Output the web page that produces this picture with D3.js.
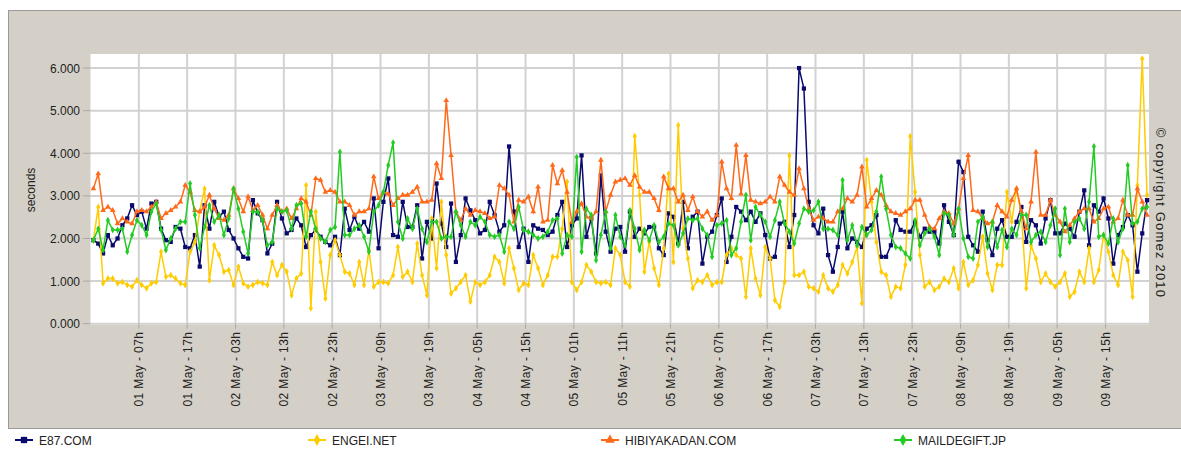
<!DOCTYPE html>
<html lang="en">
<head>
<meta charset="UTF-8">
<title>Response time</title>
<script src="https://cdn.jsdelivr.net/npm/d3@7"></script>
<style>
  body { margin: 0; background: #fff; }
  svg { display: block; font-family: "Liberation Sans", Arial, sans-serif; }
</style>
</head>
<body>
<div id="chart"></div>
<script>
// hourly samples, first one at 30 Apr 21h (+0.6h)
var e87 = [1.96,1.88,1.65,2.08,1.84,2.00,2.31,2.47,2.78,2.55,2.63,2.23,2.82,2.86,2.23,1.96,1.92,2.27,2.23,1.80,1.77,2.08,1.34,2.78,2.23,2.86,2.51,2.63,
  2.20,2.00,1.77,1.57,1.53,2.90,2.59,2.43,1.65,1.88,2.86,2.47,2.12,2.20,2.47,2.31,1.80,2.08,2.20,2.04,1.92,1.84,2.04,1.61,2.70,2.20,2.51,
  2.23,2.39,2.16,2.94,1.77,2.86,3.41,2.08,2.04,2.86,2.27,2.27,2.78,1.53,2.39,2.00,3.29,2.35,1.80,2.82,1.45,2.08,2.94,2.66,2.43,2.12,2.20,
  2.86,2.55,2.16,2.31,4.16,2.63,1.80,2.23,1.45,2.31,2.23,2.20,2.08,2.16,2.55,2.86,1.80,2.31,2.47,3.95,2.04,2.47,1.65,3.48,2.16,1.69,2.23,2.27,
  1.69,2.63,2.04,2.23,2.12,2.27,2.27,1.77,1.61,2.59,2.51,1.88,2.86,1.77,2.51,2.63,1.41,2.04,2.16,2.55,2.94,1.45,2.04,2.74,2.63,2.43,2.63,
  2.39,2.59,2.08,1.53,1.57,2.35,2.39,1.80,2.55,6.00,5.52,2.86,2.31,2.12,2.70,1.61,1.22,1.80,2.63,1.77,2.00,1.92,1.80,2.23,2.31,2.55,1.57,
  1.57,1.84,2.43,2.20,2.16,2.16,2.39,2.04,2.23,2.16,2.16,1.88,2.78,2.39,2.08,3.80,3.56,2.04,1.84,1.69,2.63,1.96,1.61,2.23,2.43,2.04,2.04,2.39,
  2.74,1.92,2.43,2.31,1.88,2.47,2.90,2.12,2.12,2.35,2.23,2.04,2.63,3.13,1.84,2.78,2.63,2.94,2.47,1.41,2.08,2.27,2.55,2.31,1.22,2.12,2.90];

var engei = [1.96,2.74,0.95,1.06,1.06,0.95,0.98,0.91,0.87,1.02,0.91,0.83,0.95,0.98,1.69,1.10,1.14,1.06,0.95,0.91,1.69,1.92,2.63,3.17,1.02,1.84,1.61,1.22,
  1.26,0.91,1.34,0.95,0.87,0.91,0.98,0.95,0.91,1.45,1.14,1.38,1.22,0.67,1.06,1.18,3.25,0.36,2.63,1.45,0.59,1.61,1.96,1.61,1.22,1.18,0.91,
  1.45,0.91,1.73,0.87,0.98,0.98,0.95,1.14,1.80,1.10,1.22,0.98,1.88,1.14,0.67,2.47,1.30,2.86,1.61,0.71,0.83,0.98,1.14,0.52,0.98,0.91,0.98,
  1.14,1.57,1.45,0.95,1.77,1.30,0.79,0.95,0.91,1.61,1.30,0.91,1.14,1.57,1.57,2.23,3.33,0.98,0.79,0.98,1.38,1.22,0.98,0.95,0.98,0.91,1.77,1.61,
  0.98,0.87,4.40,3.02,1.22,1.92,1.30,0.91,1.77,3.52,1.45,4.66,2.23,1.53,0.83,1.02,0.98,1.14,0.91,0.98,0.98,1.61,1.77,1.61,1.53,0.63,1.77,
  1.06,0.67,1.80,1.53,0.55,0.40,0.98,3.95,1.14,1.14,1.22,0.87,0.83,0.75,1.14,0.83,0.75,0.91,1.38,1.18,1.45,1.80,0.48,3.84,2.86,1.92,1.22,
  1.14,0.63,0.87,0.83,1.38,4.40,3.09,1.61,0.87,0.98,0.79,0.87,1.06,0.98,1.30,0.83,1.45,0.91,1.02,1.38,2.04,1.18,0.79,1.38,1.38,3.09,2.39,3.17,
  2.55,0.83,1.84,1.53,0.98,1.18,0.98,0.87,0.98,1.18,0.63,0.75,1.22,0.98,1.77,0.98,1.26,2.08,1.69,1.14,0.91,1.69,1.49,0.63,3.25,6.22,3.02];

var hibiya = [3.17,3.52,2.66,2.74,2.66,2.35,2.47,2.39,2.35,2.63,2.66,2.63,2.74,2.86,2.47,2.59,2.66,2.74,2.86,3.25,3.09,2.66,2.63,2.74,3.02,2.70,2.47,2.43,
  2.55,3.17,2.94,2.63,2.98,2.66,2.78,2.55,2.23,2.55,2.78,2.63,2.70,2.47,2.70,2.94,2.86,2.55,3.41,3.37,3.09,3.13,3.09,2.86,2.86,2.78,2.55,
  2.63,2.63,2.70,3.45,2.94,3.09,3.05,2.78,2.94,3.02,3.02,3.09,3.21,2.86,2.86,2.90,3.76,3.41,5.24,3.95,2.63,2.43,2.70,2.55,2.66,2.63,2.59,
  2.47,2.51,3.25,3.17,3.02,2.39,2.90,2.86,2.98,2.63,3.21,2.39,2.43,3.72,3.29,3.60,3.09,2.39,2.63,2.82,2.51,2.47,2.63,3.84,2.63,3.02,3.33,3.37,
  3.41,3.25,3.48,3.21,3.09,3.09,2.94,2.66,3.45,3.17,3.17,2.86,3.02,2.66,2.98,2.63,2.51,2.63,2.43,2.55,3.80,3.17,2.94,4.19,3.05,3.95,2.90,
  2.86,2.82,2.86,2.98,2.86,3.45,3.25,3.09,3.02,3.64,3.17,2.70,2.43,2.51,2.47,2.39,2.39,2.63,2.70,2.94,2.86,3.02,3.68,2.74,2.94,3.13,3.02,
  2.78,2.63,2.59,2.55,2.63,2.70,2.90,2.90,2.55,2.27,2.23,2.47,2.63,2.59,2.35,2.70,3.41,3.95,2.66,2.63,2.47,2.35,2.39,2.78,2.63,2.51,2.90,3.17,
  2.63,2.23,2.86,4.03,2.55,2.55,2.90,2.55,2.39,2.16,2.31,2.47,2.63,2.70,2.70,2.39,2.47,2.70,2.74,2.39,2.47,2.90,2.55,2.55,3.17,2.86,2.55];

var maildegift = [1.96,2.23,1.73,2.43,2.20,2.20,2.23,1.69,2.08,2.43,2.31,2.08,2.63,2.82,2.20,1.73,2.00,2.23,2.39,2.39,3.29,2.55,1.77,2.27,2.78,2.39,2.55,2.08,
  2.47,3.17,2.70,2.16,1.65,2.63,2.63,2.43,1.84,1.92,2.70,2.63,2.66,2.23,2.78,2.82,2.04,2.63,2.23,2.00,1.92,2.20,2.27,4.03,2.08,2.08,2.23,
  2.31,2.04,1.69,2.63,2.78,3.09,3.72,4.25,2.39,2.00,2.47,2.23,2.70,2.23,1.92,2.39,2.39,2.00,2.04,2.04,2.63,2.31,2.04,2.39,2.31,2.51,2.39,
  2.08,2.04,2.08,1.69,2.39,2.23,2.74,2.20,2.16,2.08,2.00,2.04,2.16,2.43,2.47,1.65,2.08,2.04,3.91,1.69,2.70,2.55,1.49,2.08,2.63,1.77,2.55,2.04,
  1.84,2.66,2.23,1.73,2.20,1.96,2.31,1.92,2.04,2.35,2.31,1.84,2.12,2.47,2.43,2.47,2.23,2.08,1.57,2.31,2.35,2.43,1.61,1.77,2.39,3.02,1.96,
  2.74,2.55,2.39,2.04,2.43,2.86,2.35,2.16,1.88,2.35,2.70,2.63,2.66,2.86,2.23,2.23,2.20,2.08,3.37,1.96,2.31,1.84,2.27,2.08,2.20,2.63,3.45,
  2.70,2.08,1.80,1.77,1.65,1.53,2.43,1.84,2.12,2.23,2.04,1.61,2.59,2.55,2.08,2.70,2.00,1.57,1.53,2.39,2.51,1.80,2.39,1.80,2.20,1.80,2.23,2.08,
  2.55,2.55,1.92,2.08,2.16,1.92,2.31,2.70,1.61,2.70,1.92,2.39,2.47,2.23,2.86,4.16,2.04,2.08,1.88,2.47,1.92,2.23,3.72,2.35,2.39,2.70,2.74];

var seriesNames = ["E87.COM", "ENGEI.NET", "HIBIYAKADAN.COM", "MAILDEGIFT.JP"];

// tick every 10 hours, first one 10h after the start
var tickLabels = ["01 May - 07h","01 May - 17h","02 May - 03h","02 May - 13h","02 May - 23h",
  "03 May - 09h","03 May - 19h","04 May - 05h","04 May - 15h","05 May - 01h","05 May - 11h",
  "05 May - 21h","06 May - 07h","06 May - 17h","07 May - 03h","07 May - 13h","07 May - 23h",
  "08 May - 09h","08 May - 19h","09 May - 05h","09 May - 15h"];
var yTicks = [0, 1, 2, 3, 4, 5, 6];

var W = 1181, H = 450;
var plot = {left: 90.5, right: 1149, top: 54, bottom: 323.7};

var svg = d3.select("#chart").append("svg").attr("width", W).attr("height", H);

// grey frame + white legend strip
svg.append("rect").attr("x", 8.5).attr("y", 10.5).attr("width", W - 8).attr("height", 418)
  .attr("fill", "#d4d0c8").attr("stroke", "#9a9a9a");
svg.append("rect").attr("x", 9).attr("y", 429).attr("width", W - 9).attr("height", 21)
  .attr("fill", "#fff");
svg.append("line").attr("x1", 9).attr("x2", W).attr("y1", 428.5).attr("y2", 428.5)
  .attr("stroke", "#9a9a9a");

var x = d3.scaleLinear().domain([0, 219]).range([plot.left, plot.right]);
var y = d3.scaleLinear().domain([0, 6.33]).range([plot.bottom, plot.top]);

svg.append("rect").attr("x", plot.left).attr("y", plot.top)
  .attr("width", plot.right - plot.left).attr("height", plot.bottom - plot.top + 1)
  .attr("fill", "#fff");

var tickHours = tickLabels.map(function (d, i) { return (i + 1) * 10; });

// grid
var grid = svg.append("g").attr("stroke", "#d2d2d2").attr("stroke-width", 2);
grid.selectAll(".hg").data(yTicks).join("line")
  .attr("x1", plot.left).attr("x2", plot.right)
  .attr("y1", function (d) { return y(d); }).attr("y2", function (d) { return y(d); });
grid.selectAll(".vg").data(tickHours).join("line")
  .attr("x1", function (d) { return x(d); }).attr("x2", function (d) { return x(d); })
  .attr("y1", plot.top).attr("y2", plot.bottom);

// y axis
var yAxis = svg.append("g");
yAxis.selectAll("line").data(yTicks).join("line")
  .attr("x1", 83).attr("x2", plot.left)
  .attr("y1", function (d) { return y(d); }).attr("y2", function (d) { return y(d); })
  .attr("stroke", "#a8a8a8");
yAxis.selectAll("text").data(yTicks).join("text")
  .attr("x", 80).attr("y", function (d) { return y(d) + 4.5; })
  .attr("text-anchor", "end").attr("font-size", 12).attr("fill", "#222")
  .text(function (d) { return d3.format(".3f")(d); });
svg.append("text").attr("transform", "translate(35,190) rotate(-90)")
  .attr("text-anchor", "middle").attr("font-size", 12).attr("fill", "#222").text("seconds");

// x axis
var xAxis = svg.append("g");
xAxis.selectAll("line").data(tickHours).join("line")
  .attr("x1", function (d) { return x(d); }).attr("x2", function (d) { return x(d); })
  .attr("y1", plot.bottom).attr("y2", plot.bottom + 5).attr("stroke", "#a8a8a8");
xAxis.selectAll("text").data(tickLabels).join("text")
  .attr("transform", function (d, i) { return "translate(" + (x(tickHours[i]) + 4.5) + "," + (plot.bottom + 8) + ") rotate(-90)"; })
  .attr("text-anchor", "end").attr("font-size", 12).attr("letter-spacing", 0.4).attr("fill", "#222")
  .text(function (d) { return d; });

svg.append("text").attr("transform", "translate(1156,213) rotate(90)")
  .attr("text-anchor", "middle").attr("font-size", 13).attr("letter-spacing", 1.2).attr("fill", "#222")
  .text("\u00a9 copyright Gomez 2010");

// series
var series = [
  {name: seriesNames[0], values: e87, color: "#0a0a6e", shape: d3.symbolSquare, size: 18},
  {name: seriesNames[1], values: engei, color: "#ffcc00", shape: d3.symbolDiamond, size: 14},
  {name: seriesNames[2], values: hibiya, color: "#ff6a1a", shape: d3.symbolTriangle, size: 14},
  {name: seriesNames[3], values: maildegift, color: "#22cc22", shape: d3.symbolDiamond, size: 14}
];

var line = d3.line()
  .x(function (d, i) { return x(i + 0.6); })
  .y(function (d) { return y(d); });

series.forEach(function (s) {
  var g = svg.append("g");
  g.append("path").attr("d", line(s.values)).attr("fill", "none")
    .attr("stroke", s.color).attr("stroke-width", 1.5);
  g.selectAll("path.m").data(s.values).join("path").attr("class", "m")
    .attr("transform", function (d, i) { return "translate(" + x(i + 0.6) + "," + y(d) + ")"; })
    .attr("d", d3.symbol().type(s.shape).size(s.size))
    .attr("fill", s.color);
});

// legend
var leg = svg.append("g").selectAll("g").data(series).join("g")
  .attr("transform", function (d, i) { return "translate(" + (15 + i * 293) + ",440)"; });
leg.append("line").attr("x1", 0).attr("x2", 18).attr("stroke", function (d) { return d.color; })
  .attr("stroke-width", 2);
leg.append("path").attr("transform", "translate(9,0)")
  .attr("d", function (d) { return d3.symbol().type(d.shape).size(40)(); })
  .attr("fill", function (d) { return d.color; });
leg.append("text").attr("x", 24).attr("y", 4.5).attr("font-size", 12).attr("fill", "#222")
  .text(function (d) { return d.name; });
</script>
</body>
</html>
